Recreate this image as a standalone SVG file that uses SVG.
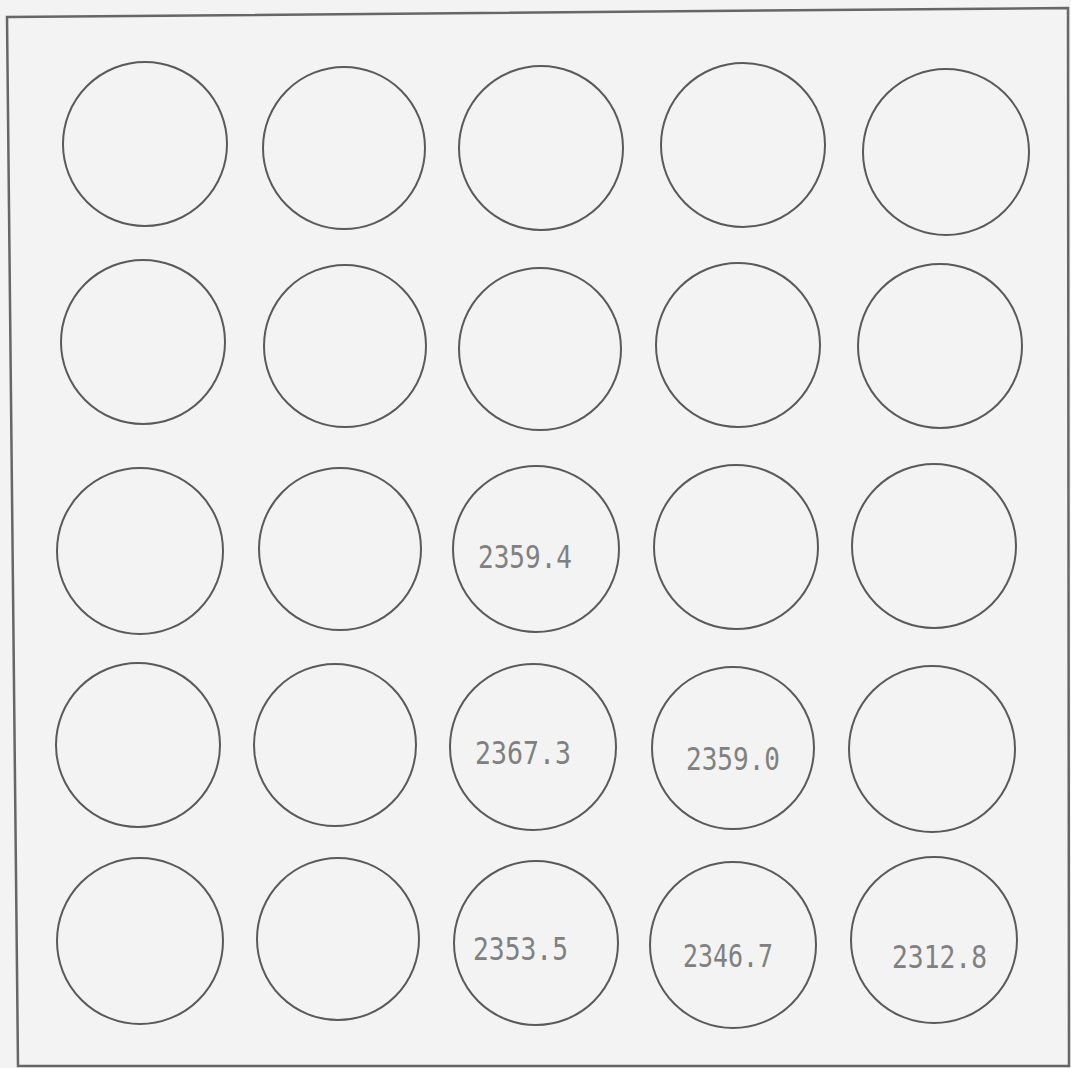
<svg xmlns="http://www.w3.org/2000/svg" width="1071" height="1068" viewBox="0 0 1071 1068">
<style>
.bg{fill:#f3f3f3}
.frame{fill:none;stroke:#666;stroke-width:2.5}
.c{fill:none;stroke:#5a5a5a;stroke-width:2}
.t{font-family:"DejaVu Sans Mono","Liberation Mono",monospace;font-size:32px;fill:#808080}
</style>
<rect class="bg" x="0" y="0" width="1071" height="1068"/>
<polygon class="frame" points="7,17 1068,8 1069,1066 18,1066"/>
<g id="r1c1"><circle class="c" cx="145" cy="144" r="82"/></g>
<g id="r1c2"><circle class="c" cx="344" cy="148" r="81"/></g>
<g id="r1c3"><circle class="c" cx="541" cy="148" r="82"/></g>
<g id="r1c4"><circle class="c" cx="743" cy="145" r="82"/></g>
<g id="r1c5"><circle class="c" cx="946" cy="152" r="83"/></g>
<g id="r2c1"><circle class="c" cx="143" cy="342" r="82"/></g>
<g id="r2c2"><circle class="c" cx="345" cy="346" r="81"/></g>
<g id="r2c3"><circle class="c" cx="540" cy="349" r="81"/></g>
<g id="r2c4"><circle class="c" cx="738" cy="345" r="82"/></g>
<g id="r2c5"><circle class="c" cx="940" cy="346" r="82"/></g>
<g id="r3c1"><circle class="c" cx="140" cy="551" r="83"/></g>
<g id="r3c2"><circle class="c" cx="340" cy="549" r="81"/></g>
<g id="r3c3"><circle class="c" cx="536" cy="549" r="83"/><text class="t" x="478" y="568" textLength="94" lengthAdjust="spacingAndGlyphs">2359.4</text></g>
<g id="r3c4"><circle class="c" cx="736" cy="547" r="82"/></g>
<g id="r3c5"><circle class="c" cx="934" cy="546" r="82"/></g>
<g id="r4c1"><circle class="c" cx="138" cy="745" r="82"/></g>
<g id="r4c2"><circle class="c" cx="335" cy="745" r="81"/></g>
<g id="r4c3"><circle class="c" cx="533" cy="747" r="83"/><text class="t" x="475" y="764" textLength="96" lengthAdjust="spacingAndGlyphs">2367.3</text></g>
<g id="r4c4"><circle class="c" cx="733" cy="748" r="81"/><text class="t" x="686" y="770" textLength="94" lengthAdjust="spacingAndGlyphs">2359.0</text></g>
<g id="r4c5"><circle class="c" cx="932" cy="749" r="83"/></g>
<g id="r5c1"><circle class="c" cx="140" cy="941" r="83"/></g>
<g id="r5c2"><circle class="c" cx="338" cy="939" r="81"/></g>
<g id="r5c3"><circle class="c" cx="536" cy="943" r="82"/><text class="t" x="473" y="960" textLength="95" lengthAdjust="spacingAndGlyphs">2353.5</text></g>
<g id="r5c4"><circle class="c" cx="733" cy="945" r="83"/><text class="t" x="683" y="967" textLength="90" lengthAdjust="spacingAndGlyphs">2346.7</text></g>
<g id="r5c5"><circle class="c" cx="934" cy="940" r="83"/><text class="t" x="892" y="968" textLength="95" lengthAdjust="spacingAndGlyphs">2312.8</text></g>
</svg>
